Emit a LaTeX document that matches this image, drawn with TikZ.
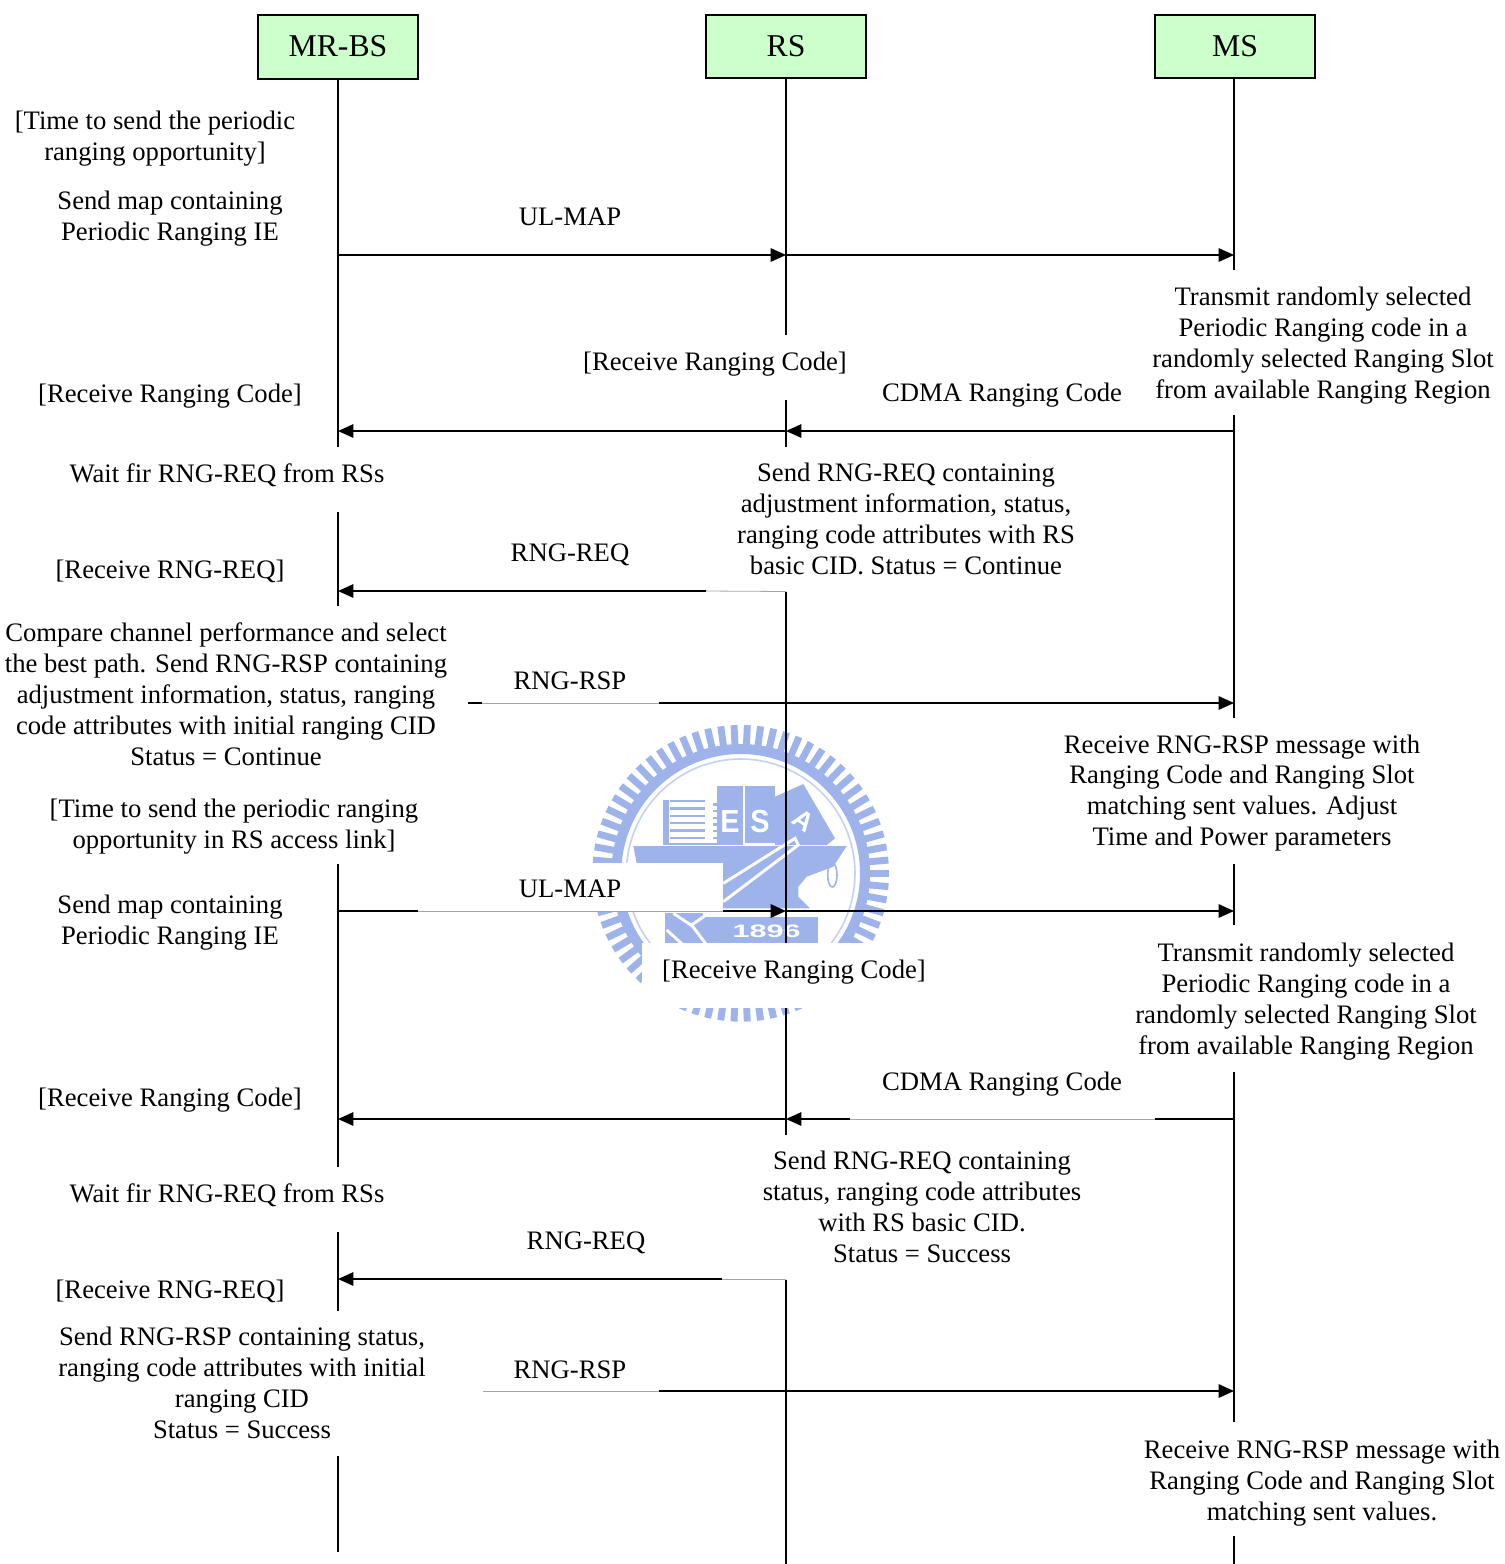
\documentclass[tikz,border=0pt]{standalone}
\usepackage{fontspec}
\setmainfont{Liberation Serif}
\newfontfamily\wmsans{Liberation Sans}
\usetikzlibrary{arrows.meta}
\definecolor{headfill}{HTML}{CCFFCC}
\definecolor{wm}{HTML}{9DB3EA}
\tikzset{
  head/.style={draw=black,line width=1.5pt,fill=headfill,minimum width=120pt,minimum height=47.5pt,inner sep=0pt,font=\fontsize{23.8}{26}\selectfont},
  lab/.style={align=center,inner sep=0pt,font=\fontsize{20}{23.2}\selectfont},
  life/.style={line width=1.4pt,black},
  msg/.style={line width=1.4pt,black,-{Triangle[length=11.5pt,width=10pt]}},
  plain/.style={line width=1.4pt,black},
  faint/.style={line width=.6pt,black!35},
  wmfill/.style={fill=wm,draw=none},
  wmtext/.style={text=white,inner sep=0pt,font=\fontsize{24}{24}\selectfont\wmsans\bfseries}
}
\begin{document}
\begin{tikzpicture}[x=.75pt,y=-.75pt]
\useasboundingbox (0,0) rectangle (1504,1564);
\fill[white] (0,0) rectangle (1504,1564);
% watermark, in crop coordinates
\begin{scope}[shift={(580,700)},x=.25pt,y=-.25pt]
  \foreach \a in {0,5.143,...,355} {
    \draw[wm,line width=5.2pt] ({482+375*cos(\a)},{520+375*sin(\a)}) -- ({482+445*cos(\a)},{520+445*sin(\a)});
  }
  \fill[wm,even odd rule] (482,520) circle[radius=388] (482,520) circle[radius=358];
  \draw[wm!60,line width=1.2pt] (482,520) circle[radius=343];
  \fill[wmfill] (248,300) rectangle (398,435);
  \fill[white] (268,296) rectangle (402,430);
  \foreach \y in {300,322,344,366,388,410} \fill[wm] (270,\y) rectangle (375,{\y+7});
  \foreach \y in {310,330,350,370,390,410,428} \fill[wm] (398,\y) rectangle (410,{\y+7});
  \fill[wmfill] (412,258) rectangle (488,435);
  \fill[wmfill] (496,258) rectangle (585,430);
  \fill[wmfill] (585,290) -- (670,252) -- (765,415) -- (740,435) -- (585,435) -- cycle;
  \node[wmtext,xscale=.9] (wmE) at (450,365) {E};
  \node[wmtext,xscale=.9] (wmS) at (540,365) {S};
  \node[wmtext,font=\fontsize{20}{20}\selectfont\wmsans\bfseries,rotate=-35] (wmA) at (672,362) {A};
  \fill[wmfill] (160,438) -- (800,438) -- (760,500) -- (680,530) -- (655,560) -- (655,590) -- (690,625) -- (330,625) -- (255,590) -- (170,490) -- cycle;
  \draw[white,line width=2.2pt] (430,550) -- (645,415) -- (655,435) -- (430,605);
  \fill[wmfill] (255,640) -- (370,640) -- (370,735) -- (255,735) -- cycle;
  \fill[wmfill] (368,650) rectangle (715,735);
  \draw[white,line width=2.2pt] (280,640) -- (340,680) (385,640) -- (335,675) -- (380,735) (260,690) -- (310,735);
  \node[wmtext,font=\fontsize{13.5}{13.5}\selectfont\wmsans\bfseries,xscale=1.7] (wmY) at (560,695) {1896};
  \draw[wm,line width=1.2pt] (757,525) ellipse[x radius=14,y radius=36];
\end{scope}
% white patches
\fill[white] (418,863) rectangle (723,911);
\fill[white] (642,943) rectangle (960,1008);
\fill[white] (642,1008) rectangle (672,1024);
% heads
\node[head] (mrbs) at (338,47) {\raisebox{1.2pt}{MR-BS}};
\node[head] (rs) at (786,46.5) {\raisebox{.7pt}{RS}};
\node[head] (ms) at (1235,46.5) {\raisebox{.7pt}{MS}};
% labels
\node[lab] (t1) at (155,139) {[Time to send the periodic\\ranging opportunity]};
\node[lab] (t2) at (170,219) {Send map containing\\Periodic Ranging IE};
\node[lab] (t3) at (570,217) {UL-MAP};
\node[lab] (t4) at (1323,346) {Transmit randomly selected\\Periodic Ranging code in a\\randomly selected Ranging Slot\\from available Ranging Region};
\node[lab] (t5) at (715,364) {[Receive Ranging Code]};
\node[lab] (t6) at (170,396) {[Receive Ranging Code]};
\node[lab] (t7) at (1002,395) {CDMA Ranging Code};
\node[lab] (t8) at (227,475) {Wait fir RNG-REQ from RSs};
\node[lab] (t9) at (906,519) {Send RNG-REQ containing\\adjustment information, status,\\ranging code attributes with RS\\basic CID. Status = Continue};
\node[lab] (t10) at (570,555) {RNG-REQ};
\node[lab] (t11) at (170,571) {[Receive RNG-REQ]};
\node[lab] (t12) at (226,694) {Compare channel performance and select\\the best path. Send RNG-RSP containing\\adjustment information, status, ranging\\code attributes with initial ranging CID\\Status = Continue};
\node[lab] (t13) at (570,681) {RNG-RSP};
\node[lab] (t14) at (1242,793) {Receive RNG-RSP message with\\Ranging Code and Ranging Slot\\matching sent values. Adjust\\Time and Power parameters};
\node[lab] (t15) at (234,827) {[Time to send the periodic ranging\\opportunity in RS access link]};
\node[lab] (t16) at (570,889) {UL-MAP};
\node[lab] (t17) at (170,923) {Send map containing\\Periodic Ranging IE};
\node[lab] (t18) at (794,972) {[Receive Ranging Code]};
\node[lab] (t19) at (1306,1002) {Transmit randomly selected\\Periodic Ranging code in a\\randomly selected Ranging Slot\\from available Ranging Region};
\node[lab] (t20) at (1002,1084) {CDMA Ranging Code};
\node[lab] (t21) at (170,1100) {[Receive Ranging Code]};
\node[lab] (t22) at (227,1195) {Wait fir RNG-REQ from RSs};
\node[lab] (t23) at (922,1207) {Send RNG-REQ containing\\status, ranging code attributes\\with RS basic CID.\\Status = Success};
\node[lab] (t24) at (586,1243) {RNG-REQ};
\node[lab] (t25) at (170,1291) {[Receive RNG-REQ]};
\node[lab] (t26) at (242,1383) {Send RNG-RSP containing status,\\ranging code attributes with initial\\ranging CID\\Status = Success};
\node[lab] (t27) at (570,1370) {RNG-RSP};
\node[lab] (t28) at (1322,1483) {Receive RNG-RSP message with\\Ranging Code and Ranging Slot\\matching sent values.};
% lifeline break points
\foreach \n/\y in {a/447,b/512,c/606,d/864,e/1167,f/1232,g/1311,h/1456,i/1552,
                   A1/255,A2/431,A5/911,A6/1119,A7/1279}
  \coordinate (B\n) at (338,\y);
\foreach \n/\y in {a/335,b/400,c/447,d/592,e/943,f/1008,g/1135,h/1280,i/1564,A1/255,A2/431,A5/911,A6/1119,A7/1279}
  \coordinate (R\n) at (786,\y);
\foreach \n/\y in {s/79,a/270,b/415,c/718,d/864,e/925,f/1072,g/1422,h/1536,i/1564,A1/255,A2/431,A4/703,A5/911,A6/1119,A8/1391}
  \coordinate (M\n) at (1234,\y);
\draw[life] (mrbs.south) -- (Ba) (Bb) -- (Bc) (Bd) -- (Be) (Bf) -- (Bg) (Bh) -- (Bi);
\draw[life] (rs.south) -- (Ra) (Rb) -- (Rc) (Rd) -- (Re) (Rf) -- (Rg) (Rh) -- (Ri);
\draw[life] (Ms) -- (Ma) (Mb) -- (Mc) (Md) -- (Me) (Mf) -- (Mg) (Mh) -- (Mi);
% free ends of the partly masked messages
\coordinate (c1) at (706,591);
\coordinate (c2) at (468,703);
\coordinate (c3) at (482,703);
\coordinate (c4) at (659,703);
\coordinate (c5) at (418,911);
\coordinate (c6) at (723,911);
\coordinate (c7) at (1155,1119);
\coordinate (c8) at (850,1119);
\coordinate (c9) at (722,1279);
\coordinate (c10) at (483,1391);
\coordinate (c11) at (659,1391);
\coordinate (Rg1) at (786,591.5);
% messages
\draw[msg] (BA1) -- (RA1);
\draw[msg] (RA1) -- (MA1);
\draw[msg] (MA2) -- (RA2);
\draw[msg] (RA2) -- (BA2);
\draw[msg] (c1) -- (BA2 |- c1);
\draw[faint] (c1) -- (Rg1);
\draw[plain] (c2) -- (c3);
\draw[faint] (c3) -- (c4);
\draw[msg] (c4) -- (MA4);
\draw[plain] (BA5) -- (c5);
\draw[faint] (c5) -- (c6);
\draw[msg] (c6) -- (RA5);
\draw[msg] (RA5) -- (MA5);
\draw[plain] (MA6) -- (c7);
\draw[faint] (c7) -- (c8);
\draw[msg] (c8) -- (RA6);
\draw[msg] (RA6) -- (BA6);
\draw[msg] (c9) -- (BA7);
\draw[faint] (c9) -- (RA7);
\draw[faint] (c10) -- (c11);
\draw[msg] (c11) -- (MA8);
\end{tikzpicture}
\end{document}
